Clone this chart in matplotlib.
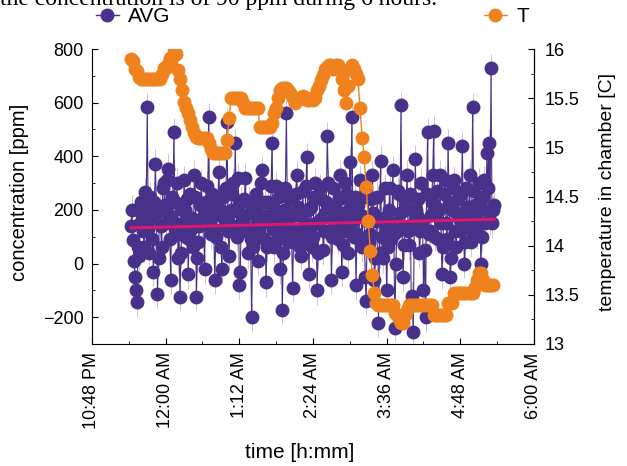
import matplotlib
matplotlib.use("Agg")
import matplotlib.pyplot as plt
import matplotlib.dates as mdates
from matplotlib.lines import Line2D
from matplotlib.ticker import MultipleLocator, FuncFormatter
from datetime import datetime, timedelta

# CO2 concentration readings (ppm), one per minute
AVG = [
    140, 200, 86, 10, -52, -100, -145, 60, 30, 150, 228, 180, 120, 60, 265, 210, 582, 130, 40, 250,
    170, 90, -30, 230, 373, 190, -112, 20, 210, 140, 60, 280, 300, 220, 150, 310, 354, 180, 90, -60,
    250, 160, 489, 230, 130, 300, 20, 110, -123, 40, 200, 150, 310, 200, 100, 240, -40, 90, 260, 130,
    170, 60, 330, 250, -123, 20, 80, 140, 220, 300, 150, 180, -20, 230, 290, 190, 545, 140, 110, 260,
    210, 130, -60, 100, 180, 250, 340, 200, 60, -20, 250, 170, 140, 280, 526, 120, 30, 190, 200, 260,
    300, 140, 448, 200, 100, 320, -80, -30, 230, 180, 160, 240, 320, 120, 40, 230, 190, 90, -201, 60,
    120, 210, 260, 150, 10, 120, 180, 300, 350, 170, 90, 230, -70, 60, 230, 180, 150, 290, 451, 130,
    60, 200, 290, 90, 170, 250, -20, 120, -172, 40, 200, 280, 560, 160, 80, 190, 240, 120, -90, 80,
    180, 260, 330, 210, 120, 60, 30, 180, 270, 100, 150, 290, 396, 200, -40, 130, 210, 60, 100, 250,
    300, 150, -100, 40, 160, 280, 240, 170, 50, 120, 190, 230, 474, 300, 120, 200, -60, 100, 280, 160,
    200, 140, 90, 240, 330, 190, -30, 70, 150, 300, 260, 120, 40, 200, 380, 230, 545, 160, 100, 250,
    -80, 110, 220, 90, 310, 180, 60, 250, 170, -50, -140, 160, 250, 80, 110, 240, 330, 190, -60, 20,
    160, 250, -220, 40, 384, 100, 20, 170, 280, 130, -100, 60, 200, 280, 90, 150, 350, 110, -239, 0,
    120, 270, 260, 190, 590, 140, -50, 70, 200, 230, 330, 120, 70, 260, -150, -120, -257, 150, 388, 200,
    180, 240, 40, 120, 300, 160, -100, 50, -201, 260, 489, 110, 120, 180, 230, 330, 496, 100, 210, 270,
    90, 200, 330, 150, -40, 60, 260, 310, 150, 90, 448, 230, -52, 20, 200, 280, 310, 120, 60, 190,
    240, 170, 120, 260, 440, 140, 0, 80, 280, 210, 170, 330, 80, 120, 582, 270, 220, 190, 110, 140,
    300, 230, 0, 100, 250, 310, 150, 200, 411, 280, 448, 160, 728, 150, 198, 220,
]

# chamber temperature (C), one reading every 2 minutes
T = [
    15.90, 15.88, 15.80, 15.78, 15.72,
    15.70, 15.70, 15.70, 15.70, 15.70, 15.70, 15.70, 15.70, 15.70, 15.70,
    15.75, 15.81, 15.81, 15.85, 15.91, 15.91, 16.00, 15.95,
    15.79, 15.70, 15.58, 15.46, 15.40, 15.35, 15.28, 15.21, 15.15, 15.11,
    15.10, 15.10, 15.10, 15.10, 15.10,
    15.04, 14.98,
    14.94, 14.94, 14.94, 14.94, 14.94, 14.94, 14.94,
    15.07, 15.30,
    15.50, 15.50, 15.50, 15.50, 15.50, 15.50,
    15.45,
    15.40, 15.40, 15.40, 15.40, 15.40, 15.40, 15.40,
    15.21, 15.21, 15.21, 15.21, 15.21, 15.21,
    15.25, 15.35, 15.40, 15.50, 15.58, 15.60, 15.60, 15.60, 15.58, 15.55, 15.50,
    15.45, 15.48, 15.50, 15.50, 15.52, 15.50, 15.48, 15.48, 15.50, 15.48,
    15.50, 15.58, 15.62, 15.68, 15.74, 15.80, 15.82, 15.84, 15.84, 15.80,
    15.84, 15.84, 15.80, 15.70, 15.58, 15.45, 15.62, 15.80, 15.84, 15.80,
    15.75, 15.69, 15.40, 15.10, 14.90, 14.60, 14.25, 13.95, 13.70, 13.52, 13.42,
    13.40, 13.40, 13.40, 13.40, 13.40, 13.40, 13.40, 13.40,
    13.32, 13.30, 13.25, 13.21, 13.21, 13.30, 13.35,
    13.40, 13.40, 13.40, 13.40, 13.40, 13.40, 13.40, 13.40, 13.40, 13.40, 13.40, 13.40,
    13.30, 13.30, 13.30, 13.30, 13.30, 13.30, 13.30,
    13.42, 13.42, 13.42,
    13.52, 13.52, 13.52, 13.52, 13.52, 13.52, 13.52, 13.52, 13.52, 13.52,
    13.58, 13.65, 13.72, 13.72, 13.65,
    13.60, 13.60, 13.60, 13.60, 13.60,
]

# linear trend of the concentration (start, end)
TREND = [133, 165]
AVG_ERR = 55

START = datetime(2000, 1, 1, 23, 26)
AVG_STEP_MIN = 1
T_STEP_MIN = 2
AXIS_START = datetime(2000, 1, 1, 22, 48)
AXIS_END = datetime(2000, 1, 2, 6, 0)

t_avg = [START + timedelta(minutes=AVG_STEP_MIN * i) for i in range(len(AVG))]
t_temp = [START + timedelta(minutes=T_STEP_MIN * i) for i in range(len(T))]

PURPLE = "#47318a"
ORANGE = "#f0821e"
PINK = "#e0156e"

plt.rcParams["font.family"] = ["Liberation Sans", "DejaVu Sans"]

fig = plt.figure(figsize=(6.27, 4.66), dpi=100)
ax = fig.add_axes([92 / 627, 1 - 344 / 466, (534 - 92) / 627, (344 - 49) / 466])

ax.errorbar(t_avg, AVG, yerr=AVG_ERR, fmt="none", ecolor=PURPLE,
            elinewidth=0.5, alpha=0.4, zorder=1)
ax.plot(t_avg, AVG, "-o", color=PURPLE, lw=0.8, ms=9, mec=PURPLE, zorder=2)
ax.plot([t_avg[0], t_avg[-1]], TREND, color=PINK, lw=2.2, zorder=3)

ax2 = ax.twinx()
ax2.plot(t_temp, T, "-o", color=ORANGE, lw=1.0, ms=9, mec=ORANGE, zorder=2)

ax.set_xlim(mdates.date2num(AXIS_START), mdates.date2num(AXIS_END))
ax.set_ylim(-300, 800)
ax2.set_ylim(13, 16)

major = [mdates.date2num(AXIS_START + timedelta(minutes=72 * k)) for k in range(7)]
minor = [mdates.date2num(AXIS_START + timedelta(minutes=36 * k)) for k in range(13)]
ax.set_xticks(major)
ax.set_xticks(minor, minor=True)


def fmt_time(x, pos):
    d = mdates.num2date(x)
    return d.strftime("%I:%M %p").lstrip("0")


ax.xaxis.set_major_formatter(FuncFormatter(fmt_time))
ax.set_yticks([-200, 0, 200, 400, 600, 800])
ax.yaxis.set_minor_locator(MultipleLocator(100))
ax2.set_yticks([13, 13.5, 14, 14.5, 15, 15.5, 16])
ax2.set_yticklabels(["13", "13.5", "14", "14.5", "15", "15.5", "16"])
ax2.yaxis.set_minor_locator(MultipleLocator(0.25))

for a in (ax, ax2):
    a.spines["top"].set_visible(False)
    for s in a.spines.values():
        s.set_linewidth(0.8)
ax2.spines["left"].set_visible(False)
ax2.spines["bottom"].set_visible(False)

ax.tick_params(axis="x", which="both", direction="in", labelsize=13,
               labelrotation=90, pad=6)
ax.tick_params(axis="x", which="major", length=4)
ax.tick_params(axis="x", which="minor", length=2.5)
ax.tick_params(axis="y", which="major", direction="in", length=4,
               labelsize=13, pad=6)
ax.tick_params(axis="y", which="minor", direction="in", length=2.5)
ax2.tick_params(axis="y", which="major", direction="in", length=4,
                labelsize=13, pad=8)
ax2.tick_params(axis="y", which="minor", direction="in", length=2.5)

fig.text(20 / 627, 1 - 192 / 466, "concentration [ppm]", rotation=90,
         ha="center", va="center", fontsize=14.5)
fig.text(607 / 627, 1 - 192 / 466, "temperature in chamber [C]", rotation=90,
         ha="center", va="center", fontsize=14)
fig.text(300 / 627, 1 - 452 / 466, "time [h:mm]", ha="center", va="center",
         fontsize=15)

h_avg = Line2D([], [], color=PURPLE, marker="o", lw=1.0, ms=9)
h_t = Line2D([], [], color=ORANGE, marker="o", lw=1.0, ms=9)
leg_kw = dict(loc="center left", frameon=False, fontsize=15, borderpad=0,
              borderaxespad=0, handlelength=1.1, handletextpad=0.45)
fig.legend(handles=[h_avg], labels=["AVG"],
           bbox_to_anchor=(96 / 627, 1 - 17 / 466), **leg_kw)
fig.legend(handles=[h_t], labels=["T"],
           bbox_to_anchor=(484 / 627, 1 - 17 / 466), **leg_kw)

fig.text(0.0, 1 - 5 / 466, "the concentration is of 90 ppm during 6 hours.",
         family=["Liberation Serif", "DejaVu Serif"], fontsize=17,
         ha="left", va="baseline")

fig.savefig("out.png", dpi=100)
